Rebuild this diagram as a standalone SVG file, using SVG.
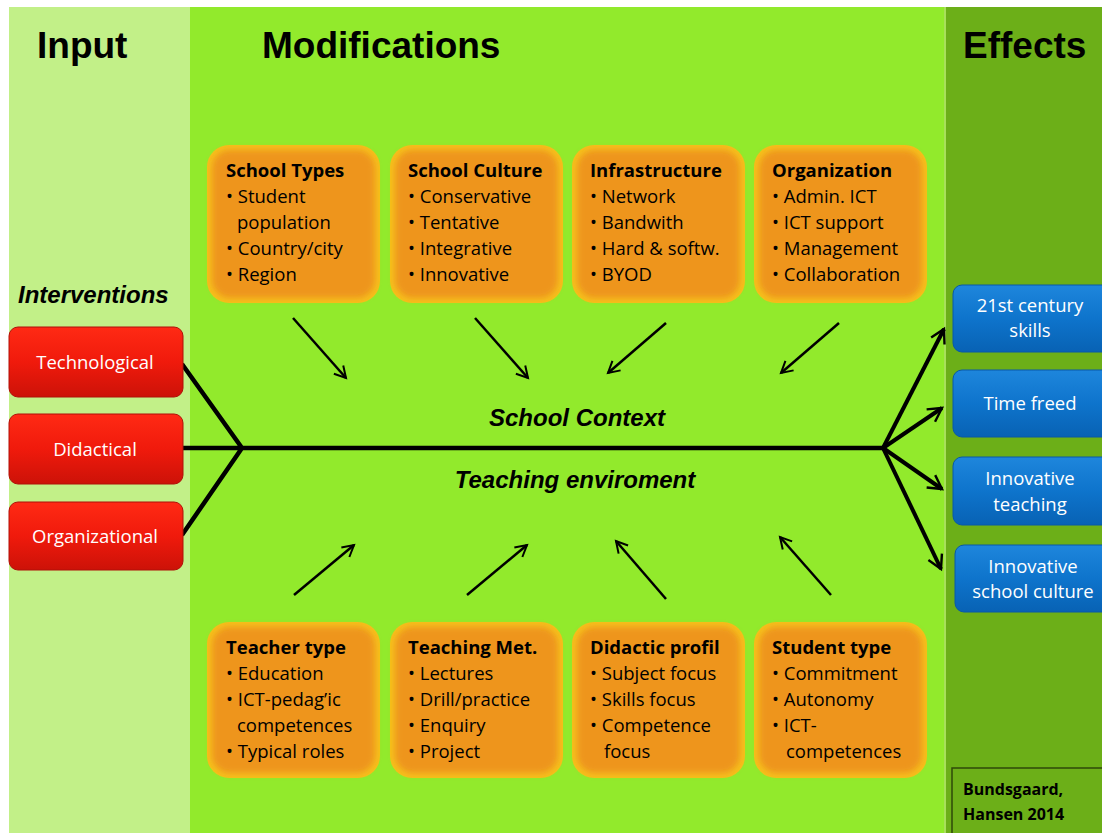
<svg xmlns="http://www.w3.org/2000/svg" width="1102" height="833" viewBox="0 0 1102 833">
<defs>
<linearGradient id="gRed" x1="0" y1="0" x2="0" y2="1"><stop offset="0" stop-color="#FF2A14"/><stop offset="0.5" stop-color="#F01A0C"/><stop offset="1" stop-color="#CC1208"/></linearGradient>
<linearGradient id="gBlue" x1="0" y1="0" x2="0" y2="1"><stop offset="0" stop-color="#1E86DC"/><stop offset="0.5" stop-color="#0E74CC"/><stop offset="1" stop-color="#0862B4"/></linearGradient>
<filter id="soft" x="-10%" y="-10%" width="120%" height="120%"><feGaussianBlur stdDeviation="3"/></filter>
<marker id="ah" viewBox="0 0 12 12" refX="10" refY="6" markerWidth="6" markerHeight="6" markerUnits="strokeWidth" orient="auto"><path d="M1,1 L10,6 L1,11" fill="none" stroke="#000" stroke-width="1.6"/></marker>
<marker id="ahb" viewBox="0 0 12 12" refX="10" refY="6" markerWidth="4.5" markerHeight="4.5" markerUnits="strokeWidth" orient="auto"><path d="M1,1 L10,6 L1,11" fill="none" stroke="#000" stroke-width="1.6"/></marker>
</defs>
<style>
.hdr{font-family:"Liberation Sans",Arial,sans-serif;font-weight:bold;font-size:37px;fill:#000}
.bi{font-family:"Liberation Sans",Arial,sans-serif;font-weight:bold;font-style:italic;font-size:24px;fill:#000}
.ot{font-family:"Open Sans","Noto Sans",sans-serif;font-size:18.5px;fill:#000}
.ot .b{font-weight:bold}
.wt{font-family:"Open Sans","Noto Sans",sans-serif;font-size:18.5px;fill:#fff;text-anchor:middle}
.ob{fill:#F6C01C}
.oi{fill:#EE951F;filter:url(#soft)}
.thin{stroke:#000;stroke-width:2.5;fill:none;marker-end:url(#ah)}
.thick{stroke:#000;stroke-width:4.5;fill:none}
.thickA{stroke:#000;stroke-width:4;fill:none;marker-end:url(#ahb)}
</style>
<rect x="0" y="0" width="1102" height="833" fill="#fff"/>
<rect x="9" y="7" width="182" height="826" fill="#C2F088"/>
<rect x="190" y="7" width="756" height="826" fill="#92EA2C"/>
<rect x="945" y="7" width="157" height="826" fill="#6CAF18"/>
<rect x="944" y="7" width="2" height="826" fill="#A8E05A"/>

<text class="hdr" x="37" y="58">Input</text>
<text class="hdr" x="262" y="58">Modifications</text>
<text class="hdr" x="963" y="58">Effects</text>
<text class="bi" x="18" y="303">Interventions</text>
<text class="bi" x="577" y="426" text-anchor="middle">School Context</text>
<text class="bi" x="575" y="488" text-anchor="middle">Teaching enviroment</text>

<g id="connectors">
<path class="thick" d="M182,364 L242,448 M182,448 L883,448 M182,535 L242,448"/>
<path class="thickA" d="M883,448 L944,329"/>
<path class="thickA" d="M883,448 L942,408"/>
<path class="thickA" d="M883,448 L942,489"/>
<path class="thickA" d="M883,448 L941,569"/>
<path class="thin" d="M293,318 L346,378"/>
<path class="thin" d="M475,318 L528,378"/>
<path class="thin" d="M666,323 L608,373"/>
<path class="thin" d="M839,323 L781,373"/>
<path class="thin" d="M294,595 L354,545"/>
<path class="thin" d="M467,595 L527,545"/>
<path class="thin" d="M666,599 L616,541"/>
<path class="thin" d="M831,595 L780,537"/>
</g>

<g id="n-schooltypes">
<rect class="ob" x="207" y="145" width="173" height="158" rx="22"/>
<rect class="oi" x="212" y="150" width="163" height="148" rx="18"/>
<text class="ot" x="226" y="177"><tspan class="b">School Types</tspan><tspan x="226" dy="26">• Student</tspan><tspan x="237" dy="26">population</tspan><tspan x="226" dy="26">• Country/city</tspan><tspan x="226" dy="26">• Region</tspan></text>
</g>
<g id="n-schoolculture">
<rect class="ob" x="390" y="145" width="173" height="158" rx="22"/>
<rect class="oi" x="395" y="150" width="163" height="148" rx="18"/>
<text class="ot" x="408" y="177"><tspan class="b">School Culture</tspan><tspan x="408" dy="26">• Conservative</tspan><tspan x="408" dy="26">• Tentative</tspan><tspan x="408" dy="26">• Integrative</tspan><tspan x="408" dy="26">• Innovative</tspan></text>
</g>
<g id="n-infrastructure">
<rect class="ob" x="572" y="145" width="173" height="158" rx="22"/>
<rect class="oi" x="577" y="150" width="163" height="148" rx="18"/>
<text class="ot" x="590" y="177"><tspan class="b">Infrastructure</tspan><tspan x="590" dy="26">• Network</tspan><tspan x="590" dy="26">• Bandwith</tspan><tspan x="590" dy="26">• Hard &amp; softw.</tspan><tspan x="590" dy="26">• BYOD</tspan></text>
</g>
<g id="n-organization">
<rect class="ob" x="754" y="145" width="173" height="158" rx="22"/>
<rect class="oi" x="759" y="150" width="163" height="148" rx="18"/>
<text class="ot" x="772" y="177"><tspan class="b">Organization</tspan><tspan x="772" dy="26">• Admin. ICT</tspan><tspan x="772" dy="26">• ICT support</tspan><tspan x="772" dy="26">• Management</tspan><tspan x="772" dy="26">• Collaboration</tspan></text>
</g>

<g id="n-teachertype">
<rect class="ob" x="207" y="622" width="173" height="156" rx="22"/>
<rect class="oi" x="212" y="627" width="163" height="146" rx="18"/>
<text class="ot" x="226" y="654"><tspan class="b">Teacher type</tspan><tspan x="226" dy="26">• Education</tspan><tspan x="226" dy="26">• ICT-pedag’ic</tspan><tspan x="237" dy="26">competences</tspan><tspan x="226" dy="26">• Typical roles</tspan></text>
</g>
<g id="n-teachingmet">
<rect class="ob" x="390" y="622" width="173" height="156" rx="22"/>
<rect class="oi" x="395" y="627" width="163" height="146" rx="18"/>
<text class="ot" x="408" y="654"><tspan class="b">Teaching Met.</tspan><tspan x="408" dy="26">• Lectures</tspan><tspan x="408" dy="26">• Drill/practice</tspan><tspan x="408" dy="26">• Enquiry</tspan><tspan x="408" dy="26">• Project</tspan></text>
</g>
<g id="n-didacticprofil">
<rect class="ob" x="572" y="622" width="173" height="156" rx="22"/>
<rect class="oi" x="577" y="627" width="163" height="146" rx="18"/>
<text class="ot" x="590" y="654"><tspan class="b">Didactic profil</tspan><tspan x="590" dy="26">• Subject focus</tspan><tspan x="590" dy="26">• Skills focus</tspan><tspan x="590" dy="26">• Competence</tspan><tspan x="604" dy="26">focus</tspan></text>
</g>
<g id="n-studenttype">
<rect class="ob" x="754" y="622" width="173" height="156" rx="22"/>
<rect class="oi" x="759" y="627" width="163" height="146" rx="18"/>
<text class="ot" x="772" y="654"><tspan class="b">Student type</tspan><tspan x="772" dy="26">• Commitment</tspan><tspan x="772" dy="26">• Autonomy</tspan><tspan x="772" dy="26">• ICT-</tspan><tspan x="786" dy="26">competences</tspan></text>
</g>

<g id="n-technological">
<rect x="9" y="327" width="174" height="70" rx="9" fill="url(#gRed)" stroke="#B01008" stroke-width="1"/>
<text class="wt" x="95" y="369">Technological</text>
</g>
<g id="n-didactical">
<rect x="9" y="414" width="174" height="70" rx="9" fill="url(#gRed)" stroke="#B01008" stroke-width="1"/>
<text class="wt" x="95" y="456">Didactical</text>
</g>
<g id="n-organizational">
<rect x="9" y="502" width="174" height="68" rx="9" fill="url(#gRed)" stroke="#B01008" stroke-width="1"/>
<text class="wt" x="95" y="543">Organizational</text>
</g>

<g id="n-21st">
<rect x="953" y="285" width="160" height="67" rx="9" fill="url(#gBlue)" stroke="#0858A8" stroke-width="1"/>
<text class="wt" x="1030" y="312">21st century</text>
<text class="wt" x="1030" y="337">skills</text>
</g>
<g id="n-timefreed">
<rect x="953" y="370" width="160" height="67" rx="9" fill="url(#gBlue)" stroke="#0858A8" stroke-width="1"/>
<text class="wt" x="1030" y="410">Time freed</text>
</g>
<g id="n-innoteaching">
<rect x="953" y="457" width="160" height="68" rx="9" fill="url(#gBlue)" stroke="#0858A8" stroke-width="1"/>
<text class="wt" x="1030" y="485">Innovative</text>
<text class="wt" x="1030" y="511">teaching</text>
</g>
<g id="n-innoculture">
<rect x="955" y="545" width="160" height="67" rx="9" fill="url(#gBlue)" stroke="#0858A8" stroke-width="1"/>
<text class="wt" x="1033" y="573">Innovative</text>
<text class="wt" x="1033" y="598">school culture</text>
</g>

<g id="n-credit">
<rect x="952" y="768" width="160" height="70" fill="#6CAF18" stroke="#2E4A08" stroke-width="1.5"/>
<text class="ot" x="963" y="795" font-weight="bold" style="font-size:16px">Bundsgaard,</text>
<text class="ot" x="963" y="820" font-weight="bold" style="font-size:16px">Hansen 2014</text>
</g>
</svg>
